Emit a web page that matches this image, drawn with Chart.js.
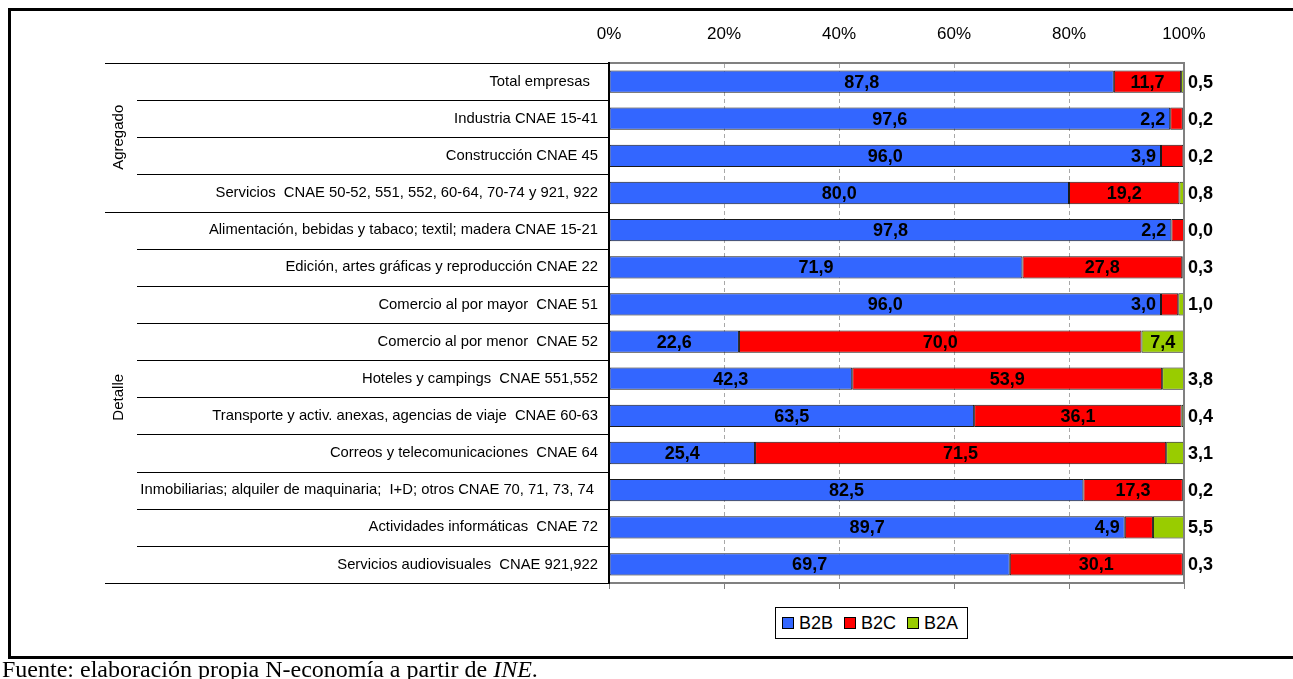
<!DOCTYPE html>
<html lang="es">
<head>
<meta charset="utf-8">
<title>Comercio electrónico: B2B, B2C y B2A por sector</title>
<script src="https://cdn.jsdelivr.net/npm/chart.js@4.4.1/dist/chart.umd.min.js"></script>
<style>
  html, body { margin: 0; padding: 0; background: #fff; }
  body { width: 1293px; height: 679px; position: relative; overflow: hidden; }
  #grafico { position: absolute; left: 0; top: 0; }
  #marco { position: absolute; left: 8px; top: 8px; width: 1300px; height: 645px; border: 3px solid #000; pointer-events: none; }
  #leyenda { position: absolute; left: 775px; top: 607px; height: 32px; box-sizing: border-box; border: 1px solid #000;
             display: flex; align-items: center; padding: 0 9px 0 6px; background: #fff;
             font: 18px "Liberation Sans", Arial, sans-serif; }
  #leyenda .item { display: flex; align-items: center; margin-right: 11px; }
  #leyenda .item:last-child { margin-right: 0; }
  #leyenda .caja { width: 10px; height: 10px; border: 1px solid #000; margin-right: 5px; }
  #fuente { position: absolute; left: 2px; top: 657px; white-space: nowrap; line-height: 24px;
            font-family: "Liberation Serif", "Times New Roman", serif; font-size: 24px; }
</style>
</head>
<body>
<canvas id="grafico" width="1293" height="679"></canvas>
<div id="marco"></div>
<div id="leyenda"></div>
<div id="fuente">Fuente: elaboración propia N-economía a partir de <i>INE</i>.</div>

<script>
// sectores (filas de arriba a abajo)
const categorias = [
  'Total empresas  ',
  'Industria CNAE 15-41',
  'Construcción CNAE 45',
  'Servicios  CNAE 50-52, 551, 552, 60-64, 70-74 y 921, 922',
  'Alimentación, bebidas y tabaco; textil; madera CNAE 15-21',
  'Edición, artes gráficas y reproducción CNAE 22',
  'Comercio al por mayor  CNAE 51',
  'Comercio al por menor  CNAE 52',
  'Hoteles y campings  CNAE 551,552',
  'Transporte y activ. anexas, agencias de viaje  CNAE 60-63',
  'Correos y telecomunicaciones  CNAE 64',
  'Inmobiliarias; alquiler de maquinaria;  I+D; otros CNAE 70, 71, 73, 74 ',
  'Actividades informáticas  CNAE 72',
  'Servicios audiovisuales  CNAE 921,922'
];

// % de ventas por tipo de cliente
const b2b = [87.8, 97.6, 96.0, 80.0, 97.8, 71.9, 96.0, 22.6, 42.3, 63.5, 25.4, 82.5, 89.7, 69.7];
const b2c = [11.7,  2.2,  3.9, 19.2,  2.2, 27.8,  3.0, 70.0, 53.9, 36.1, 71.5, 17.3,  4.9, 30.1];
const b2a = [ 0.5,  0.2,  0.2,  0.8,  0.0,  0.3,  1.0,  7.4,  3.8,  0.4,  3.1,  0.2,  5.5,  0.3];

// bloques de filas
const grupos = ['Agregado', 'Detalle'];
const gruposDesde = [0, 4];
const gruposHasta = [3, 13];

const FUENTE = '"Liberation Sans", Arial, sans-serif';
const fmt = v => v.toFixed(1).replace('.', ',');

// lineas de la tabla de la izquierda + nombres de bloque + marco derecho
const tabla = {
  id: 'tabla',
  afterDraw(chart) {
    const { ctx, chartArea } = chart;
    const y = chart.scales.y;
    const fila = y.getPixelForValue(1) - y.getPixelForValue(0);
    ctx.save();
    ctx.strokeStyle = '#000';
    ctx.lineWidth = 1;
    for (let k = 0; k <= categorias.length; k++) {
      const py = Math.round(y.getPixelForValue(k) - fila / 2) + 0.5;
      const borde = k === 0 || k === categorias.length || gruposDesde.includes(k);
      ctx.beginPath();
      ctx.moveTo(borde ? 105 : 137, py);
      ctx.lineTo(chartArea.left, py);
      ctx.stroke();
    }

    ctx.fillStyle = '#000';
    ctx.font = '15px ' + FUENTE;
    ctx.textAlign = 'center';
    ctx.textBaseline = 'middle';
    grupos.forEach((g, i) => {
      const y0 = y.getPixelForValue(gruposDesde[i]) - fila / 2;
      const y1 = y.getPixelForValue(gruposHasta[i]) + fila / 2;
      ctx.save();
      ctx.translate(119, (y0 + y1) / 2);
      ctx.rotate(-Math.PI / 2);
      ctx.fillText(g, 0, 0);
      ctx.restore();
    });

    ctx.strokeStyle = '#808080';
    ctx.lineWidth = 2;
    ctx.beginPath();
    ctx.moveTo(chartArea.right, chartArea.top);
    ctx.lineTo(chartArea.right, chartArea.bottom);
    ctx.stroke();
    ctx.restore();
  }
};

// valores sobre las barras; los tramos estrechos llevan el valor fuera
const etiquetas = {
  id: 'etiquetas',
  afterDatasetsDraw(chart) {
    const { ctx, chartArea } = chart;
    ctx.save();
    ctx.font = 'bold 18px ' + FUENTE;
    ctx.fillStyle = '#000';
    ctx.textBaseline = 'middle';
    chart.data.datasets.forEach((ds, i) => {
      chart.getDatasetMeta(i).data.forEach((bar, j) => {
        const txt = fmt(ds.data[j]);
        const w = ctx.measureText(txt).width;
        const x0 = Math.min(bar.base, bar.x);
        const x1 = Math.min(Math.max(bar.base, bar.x), chartArea.right);
        const yy = bar.y + 1;
        if (x1 - x0 >= w + 12) {
          ctx.textAlign = 'center';
          ctx.fillText(txt, (x0 + x1) / 2, yy);
        } else if (i === 2) {
          ctx.textAlign = 'left';
          ctx.fillText(txt, chartArea.right + 4, yy);
        } else {
          ctx.textAlign = 'right';
          ctx.fillText(txt, x0 - 5, yy);
        }
      });
    });
    ctx.restore();
  }
};

Chart.defaults.font.family = FUENTE;
Chart.defaults.color = '#000';

const serie = (label, data, color) => ({
  label, data,
  backgroundColor: color,
  borderColor: '#1a1a1a',
  borderWidth: 1,
  borderSkipped: false,
  categoryPercentage: 1,
  barPercentage: 0.6
});

const chart = new Chart(document.getElementById('grafico'), {
  type: 'bar',
  data: {
    labels: categorias,
    datasets: [
      serie('B2B', b2b, '#3366FF'),
      serie('B2C', b2c, '#FF0000'),
      serie('B2A', b2a, '#99CC00')
    ]
  },
  options: {
    indexAxis: 'y',
    responsive: false,
    animation: false,
    layout: { padding: { top: 0, left: 0, right: 109, bottom: 0 } },
    plugins: { legend: { display: false }, tooltip: { enabled: false } },
    scales: {
      x: {
        position: 'top',
        stacked: true,
        min: 0, max: 100,
        ticks: { stepSize: 20, callback: v => v + '%', font: { size: 17 }, padding: 18 },
        grid: { color: '#a8a8a8', drawTicks: false },
        border: { color: '#808080', width: 2, dash: [4, 3] },
        afterFit: s => { s.height = 63; }
      },
      x2: {
        position: 'bottom',
        min: 0, max: 100,
        ticks: { stepSize: 20, display: false },
        grid: { drawOnChartArea: false, tickLength: 6, color: '#808080' },
        border: { color: '#808080', width: 2 },
        afterFit: s => { s.height = 96; }
      },
      y: {
        stacked: true,
        ticks: { font: { size: 14.8 }, padding: 11, autoSkip: false },
        grid: { display: false, drawTicks: false },
        border: { color: '#000', width: 2 },
        afterFit: s => { s.width = 609; }
      }
    }
  },
  plugins: [tabla, etiquetas]
});

// leyenda propia con recuadro
const leyenda = document.getElementById('leyenda');
chart.data.datasets.forEach(ds => {
  const item = document.createElement('span');
  item.className = 'item';
  const caja = document.createElement('span');
  caja.className = 'caja';
  caja.style.background = ds.backgroundColor;
  item.appendChild(caja);
  item.appendChild(document.createTextNode(ds.label));
  leyenda.appendChild(item);
});
</script>
</body>
</html>
